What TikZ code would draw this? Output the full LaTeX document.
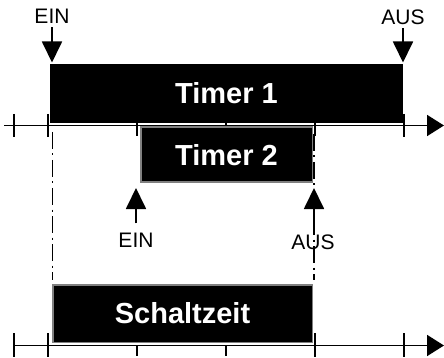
\documentclass[tikz,border=0pt]{standalone}
\usepackage{fontspec}
\setmainfont{Liberation Sans}
\usetikzlibrary{arrows.meta}
\begin{document}
\begin{tikzpicture}[x=1pt,y=-1pt,
  bar/.style={rectangle, fill=black, draw=#1, line width=1.5pt, inner sep=0pt,
    text=white, font=\fontsize{29}{30}\selectfont\bfseries},
  bar/.default=black,
  lbl/.style={inner sep=0pt, font=\fontsize{21}{22}\selectfont, anchor=base},
  axisline/.style={line width=1.8pt, -{Triangle[length=17pt,width=21pt]}},
  tickmark/.style={line width=1.8pt},
  evarrow/.style={line width=1.8pt, -{Triangle[length=21pt,width=20pt]}},
  guide/.style={line width=1.8pt, dash pattern=on 17pt off 4.5pt on 2pt off 4.5pt}]
\useasboundingbox (0,0) rectangle (444,358);
% top axis
\coordinate (a1s) at (4,125.5);
\coordinate (a1e) at (444,125.5);
\draw[axisline] (a1s) -- (a1e);
\foreach \x in {14,48,404} \draw[tickmark] (\x,114) -- (\x,137);
\foreach \x in {137,226,315} \draw[tickmark] (\x,123) -- (\x,136);
% bottom axis
\coordinate (a2s) at (14,345.5);
\coordinate (a2e) at (444,345.5);
\draw[axisline] (a2s) -- (a2e);
\foreach \x in {14,48,315,404} \draw[tickmark] (\x,333) -- (\x,357);
\foreach \x in {137,226} \draw[tickmark] (\x,345) -- (\x,356);
% boxes
\node[bar, minimum width=351.5pt, minimum height=57.5pt] (t1) at (226.5,93.5) {Timer 1};
\node[bar=gray, minimum width=171.5pt, minimum height=55pt] (t2) at (226.5,154.75) {Timer 2};
\node[bar=gray, minimum width=259.5pt, minimum height=57.5pt] (sz) at (182.5,313.5) {Schaltzeit};
% labels
\node[lbl] (ein1) at (52,24) {EIN};
\node[lbl] (aus1) at (403,25) {AUS};
\node[lbl] (ein2) at (136,247) {EIN};
\node[lbl] (aus2) at (313,249) {AUS};
% event arrows
\draw[evarrow, shorten <=3pt, shorten >=1.5pt] (ein1.south) -- (ein1.south |- t1.north);
\draw[evarrow, shorten <=3pt, shorten >=1.5pt] (aus1.south) -- (aus1.south |- t1.north);
\draw[evarrow, shorten <=9pt, shorten >=5pt] (ein2.north) -- (ein2.north |- t2.south);
\coordinate (aus2top) at (314,234);
\draw[evarrow, shorten >=5pt] (aus2top) -- (aus2top |- t2.south);
% guide lines
\coordinate (g1a) at (52.5,132);
\coordinate (g1b) at (52.5,280);
\draw[guide] (g1a) -- (g1b);
\coordinate (g2a) at (314,133);
\coordinate (g2b) at (314,280);
\draw[guide, dash phase=27pt] (g2a) -- (g2b);
\end{tikzpicture}
\end{document}
